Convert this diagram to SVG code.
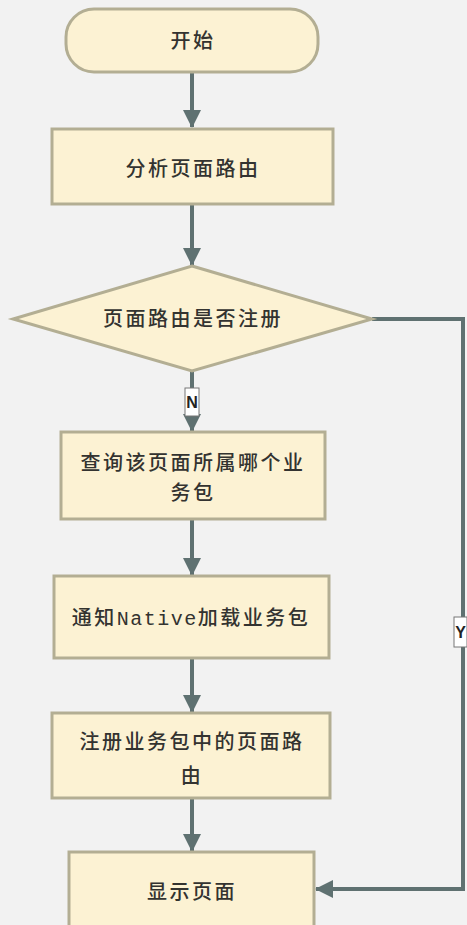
<svg xmlns="http://www.w3.org/2000/svg" width="467" height="925" viewBox="0 0 467 925">
<defs>
<style>
.n{fill:#fcf2d3;stroke:#b3ae93;stroke-width:3}
.t{font-family:"Noto Sans CJK SC","Liberation Sans",sans-serif;font-size:20px;font-weight:500;fill:#333330;text-anchor:middle;letter-spacing:2.5px}
.m{font-family:"Liberation Mono",monospace;letter-spacing:1.5px}
.c{fill:none;stroke:#5f7171;stroke-width:4}
.lb{fill:#ffffff;stroke:#777;stroke-width:1}
.lt{font-family:"Liberation Sans",sans-serif;font-size:16px;font-weight:bold;fill:#222;text-anchor:middle}
</style>
<marker id="ahb" markerWidth="18" markerHeight="18" refX="17" refY="9" orient="auto" markerUnits="userSpaceOnUse" viewBox="0 0 18 18">
<path d="M0,0 L18,9 L0,18 z" fill="#5f7171"/>
</marker>
</defs>
<rect width="467" height="925" fill="#f2f2f2"/>
<g id="connectors">
<path class="c" d="M192,73 V127" marker-end="url(#ahb)"/>
<path class="c" d="M192,204 V265" marker-end="url(#ahb)"/>
<path class="c" d="M192,371 V431" marker-end="url(#ahb)"/>
<path class="c" d="M192,520 V575" marker-end="url(#ahb)"/>
<path class="c" d="M192,659 V712" marker-end="url(#ahb)"/>
<path class="c" d="M192,799 V851" marker-end="url(#ahb)"/>
<path class="c" d="M372,319 H463 V889 H316" marker-end="url(#ahb)"/>
<g id="label-N">
<rect class="lb" x="185" y="388" width="14" height="28"/>
<text class="lt" x="192" y="408">N</text>
</g>
<g id="label-Y">
<rect class="lb" x="454" y="617" width="13" height="30"/>
<text class="lt" x="460.5" y="638">Y</text>
</g>
</g>
<g id="start">
<rect class="n" x="66" y="9" width="252" height="63" rx="28"/>
<text class="t" x="193" y="48">开始</text>
</g>
<g id="analyze">
<rect class="n" x="52" y="129" width="281" height="75"/>
<text class="t" x="193" y="176">分析页面路由</text>
</g>
<g id="decision">
<polygon class="n" points="192,266 372,319 192,371 13,319"/>
<text class="t" x="193" y="326">页面路由是否注册</text>
</g>
<g id="query">
<rect class="n" x="61" y="432" width="264" height="87"/>
<text class="t" x="193" y="470">查询该页面所属哪个业</text>
<text class="t" x="193" y="500">务包</text>
</g>
<g id="notify">
<rect class="n" x="54" y="576" width="275" height="82"/>
<text class="t" x="191" y="625">通知<tspan class="m">Native</tspan>加载业务包</text>
</g>
<g id="register">
<rect class="n" x="52" y="713" width="278" height="85"/>
<text class="t" x="192" y="749">注册业务包中的页面路</text>
<text class="t" x="192" y="783">由</text>
</g>
<g id="show">
<rect class="n" x="69" y="852" width="245" height="80"/>
<text class="t" x="192" y="899">显示页面</text>
</g>
</svg>
